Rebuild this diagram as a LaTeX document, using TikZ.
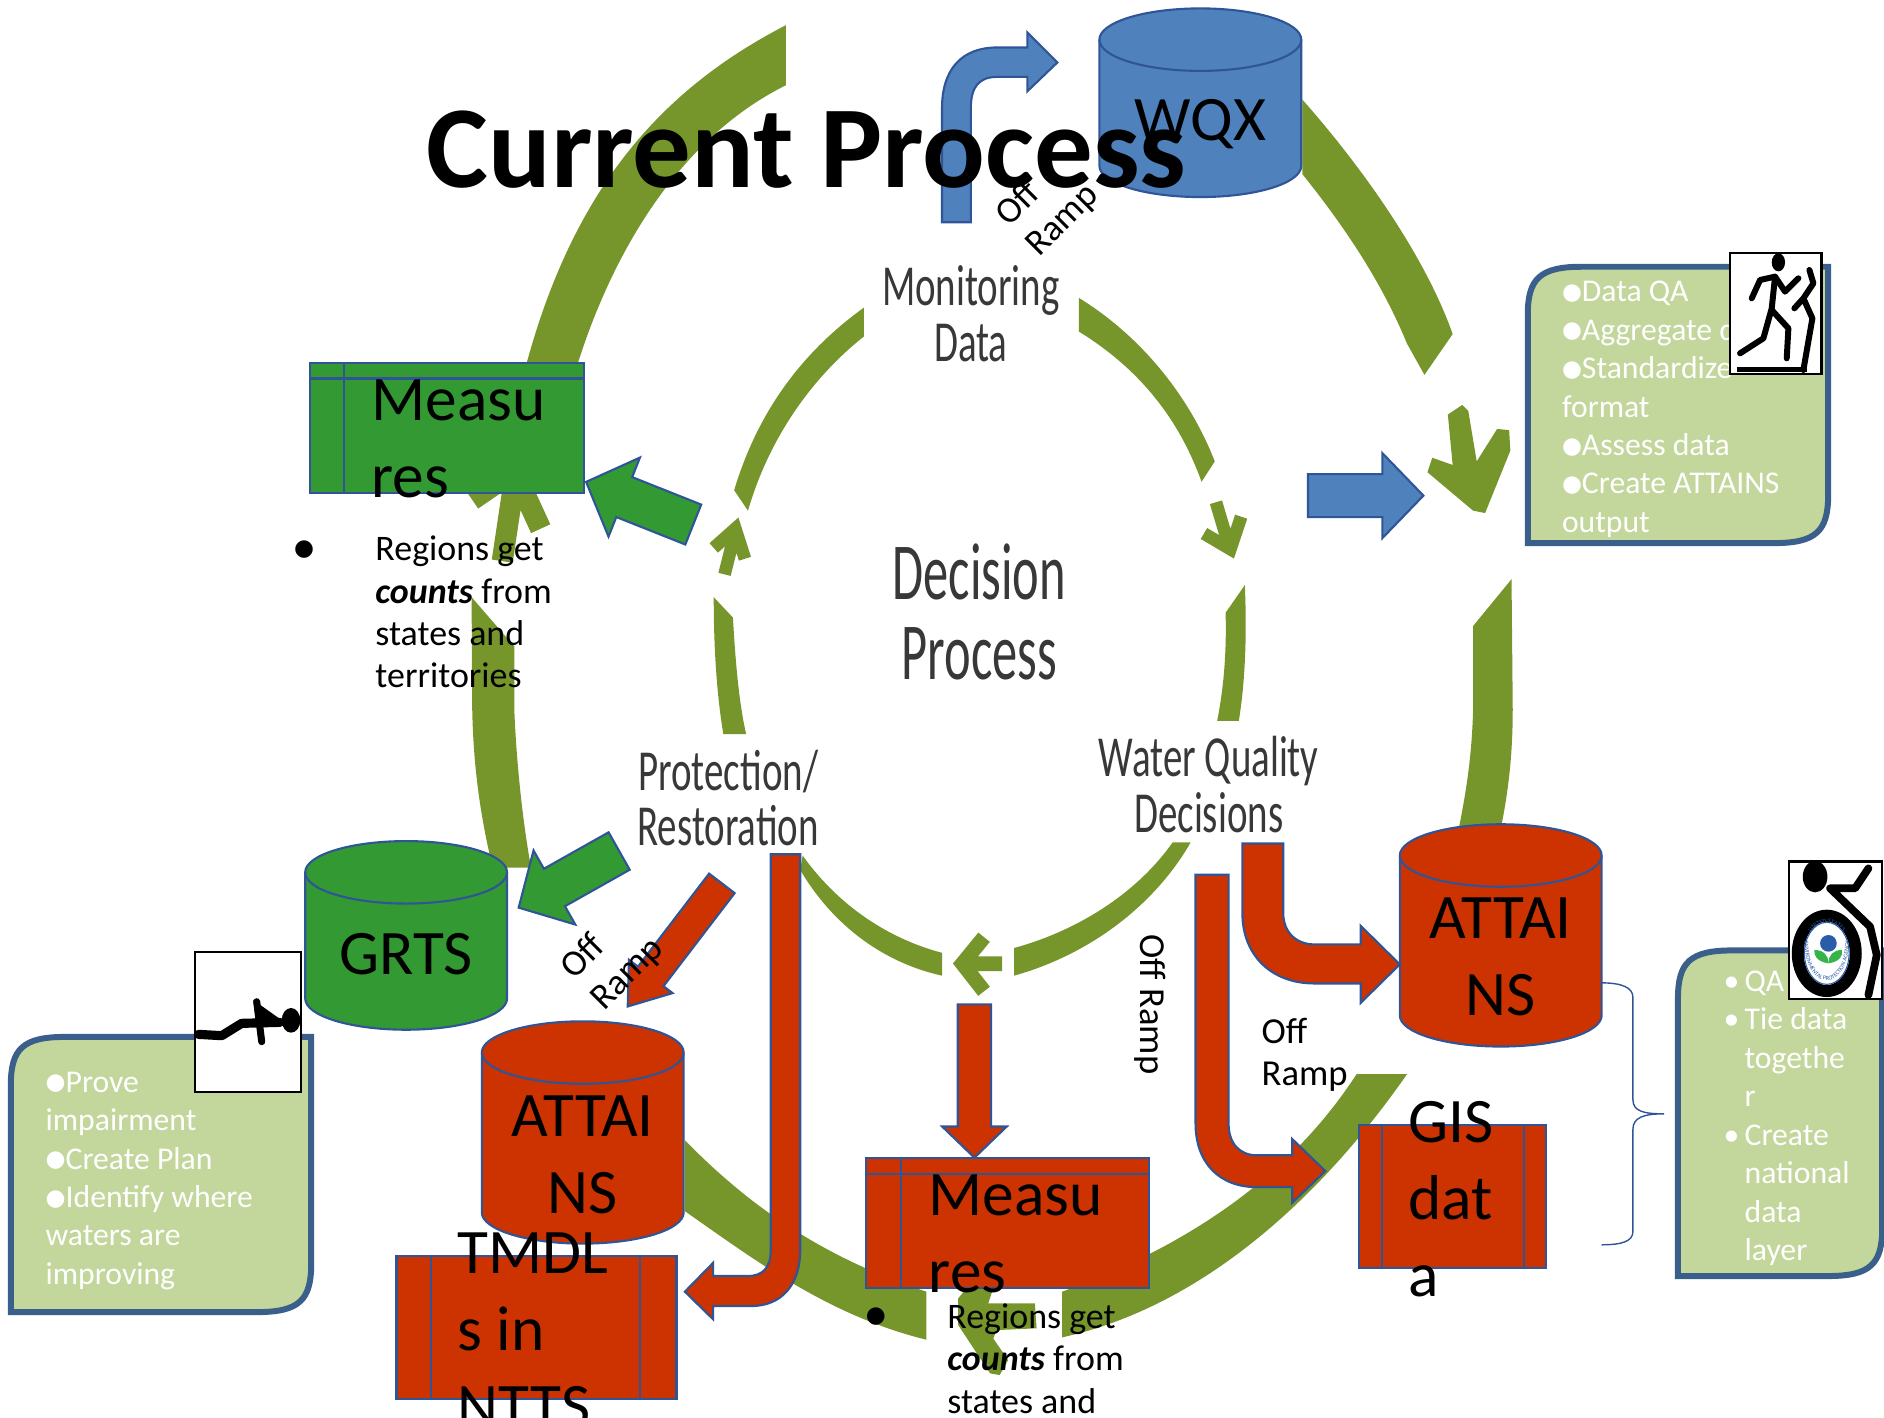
\documentclass[tikz,border=0pt]{standalone}
\usepackage{fontspec}
\setmainfont{Carlito}
\newfontfamily\symfont{DejaVu Sans}
\usetikzlibrary{arrows,calc,positioning,shapes.geometric,shapes.arrows,decorations.text}
\definecolor{ring}{HTML}{76962B}
\definecolor{wqblue}{HTML}{4F81BD}
\definecolor{wqgreen}{HTML}{339933}
\definecolor{wqred}{HTML}{CC3300}
\definecolor{wqline}{HTML}{2F5597}
\definecolor{callfill}{HTML}{C3D69B}
\definecolor{callline}{HTML}{3A5F8B}
\definecolor{epablue}{HTML}{2A5CAA}
\definecolor{epagreen}{HTML}{35B44A}
\def\pu{0.012cm}
\newcommand\bigtxt{\fontsize{18}{21.85}\selectfont}
\newcommand\blt{\raisebox{0.7pt}{\fontsize{6.5}{6.5}\symfont ●}}
\newcommand\sblt{\llap{\textbullet\hspace{1.5pt}}}
\newcommand\callpath[1]{(#1.south west) -- ($(#1.north west)+(0,40)$) .. controls ($(#1.north west)+(0,10)$) and ($(#1.north west)+(10,0)$) .. ($(#1.north west)+(45,0)$) -- (#1.north east) -- ($(#1.south east)+(0,-40)$) .. controls ($(#1.south east)+(0,-10)$) and ($(#1.south east)+(-10,0)$) .. ($(#1.south east)+(-45,0)$) -- cycle}
\newcommand\drumpath[1]{($(#1.north west)+(0,26)$) .. controls ($(#1.north west)+(0,11.6)$) and ($(#1.north)+(-46.4,0)$) .. (#1.north) .. controls ($(#1.north)+(46.4,0)$) and ($(#1.north east)+(0,11.6)$) .. ($(#1.north east)+(0,26)$) -- ($(#1.south east)+(0,-26)$) .. controls ($(#1.south east)+(0,-11.6)$) and ($(#1.south)+(46.4,0)$) .. (#1.south) .. controls ($(#1.south)+(-46.4,0)$) and ($(#1.south west)+(0,-11.6)$) .. ($(#1.south west)+(0,-26)$) -- cycle}
\newcommand\drumlid[1]{($(#1.north west)+(0,26)$) .. controls ($(#1.north west)+(0,40.4)$) and ($(#1.north)+(-46.4,52)$) .. ($(#1.north)+(0,52)$) .. controls ($(#1.north)+(46.4,52)$) and ($(#1.north east)+(0,40.4)$) .. ($(#1.north east)+(0,26)$)}
\begin{document}
\begin{tikzpicture}[x=0.012cm,y=-0.012cm,% picture is laid out in 1568 x 1180 steps
	every node/.style={inner sep=0,outer sep=0},
	drum/.style={rectangle,minimum width=168*\pu},
	drumline/.style={draw=wqline,semithick},
	measbox/.style={rectangle,draw=wqline,semithick},
	bigtext/.style={font=\bigtxt,align=left,anchor=west},
	blockarrow/.style={single arrow,draw=wqline,semithick,single arrow head indent=0pt,minimum height=96*\pu,minimum width=69*\pu,text height=17*\pu,text depth=17*\pu,single arrow head extend=17.5*\pu,single arrow tip angle=92},
	bent/.style={draw=wqline,semithick,line join=miter},
	circletext/.style={text=black!78,align=center,font=\fontsize{16.5}{15.7}\selectfont,xscale=0.67,transform shape},
	ramptext/.style={font=\fontsize{10.4}{12.2}\selectfont,align=left},
	notetext/.style={font=\fontsize{10.2}{12.05}\selectfont,align=left,anchor=north west},
	callbox/.style={rectangle},
	calltext/.style={text=white,font=\fontsize{9}{10.92}\selectfont,align=left,anchor=north west},
	iconbox/.style={rectangle,draw=black,fill=white,semithick},
	iconline/.style={draw=black,line width=1.7pt,line cap=round,line join=round}
	]
	\useasboundingbox (0,0) rectangle (1568,1180);
	% outer ring
	\fill[ring] (654,21) .. controls (530,85) and (450,190) .. (418,400) -- (458,400) .. controls (480,260) and (545,125) .. (654,71) -- cycle;
	\draw[ring,line width=6pt,line join=round] (418,467) -- (428,400) (393,416) -- (428,392) -- (450,440);
	\fill[ring] (392.5,497) -- (428,538) -- (428,590) .. controls (430,640) and (436,690) .. (442,722) -- (410,722) .. controls (400,680) and (394,640) .. (393,590) -- cycle;
	\fill[ring] (570,949) .. controls (620,1000) and (680,1045) .. (771,1075) -- (771,1115) .. controls (690,1095) and (630,1050) .. (570,1008) -- cycle;
	\fill[ring] (797.5,1080.6) -- (804.5,1072) -- (826.7,1072) -- (822.5,1084.7) -- (861.3,1084.7) -- (862.7,1105.5) -- (829.4,1107) -- (826.7,1114) -- (839,1132) -- (832,1144.4) -- (824,1143) -- (797.5,1102.8) -- cycle;
	\fill[ring] (884,1113) .. controls (990,1090) and (1090,1010) .. (1171,894) -- (1129,894) .. controls (1070,985) and (980,1040) .. (884,1075) -- cycle;
	\fill[ring] (1258,482) -- (1226,521) -- (1226,590) .. controls (1225,630) and (1220,660) .. (1214,690) -- (1249,690) .. controls (1255,660) and (1259,630) .. (1259,590) -- cycle;
	\fill[ring] (1084,83) .. controls (1130,135) and (1185,210) .. (1209,278) -- (1185.5,312) -- (1171,286) .. controls (1150,235) and (1120,190) .. (1084,145) -- cycle;
	\fill[ring] (1205,345) -- (1217,337) -- (1222,342) -- (1229,384) -- (1246,357) -- (1256,358) -- (1257,375) -- (1236,427) -- (1226,425) -- (1188,393) -- (1192,381) -- (1209,387) -- cycle;
	% inner ring
	\fill[ring] (719,256) .. controls (665,295) and (630,345) .. (611,408) -- (622.5,425) .. controls (640,365) and (675,315) .. (719,280) -- cycle;
	\draw[ring,line width=3.6pt] (603,478) -- (612,442) (594,456) -- (612,440) -- (620,465);
	\fill[ring] (594,497) -- (610,514) .. controls (612,550) and (615,585) .. (621,611) -- (602,611) .. controls (596,575) and (594,535) .. (594,497) -- cycle;
	\fill[ring] (668,712) .. controls (695,750) and (735,780) .. (784,793) -- (784,812) .. controls (730,800) and (690,765) .. (666,724) -- cycle;
	\draw[ring,line width=4.2pt] (834,802) -- (802,802) (819,780) -- (801,802) -- (819,825);
	\fill[ring] (844,789) .. controls (895,775) and (945,745) .. (976,701) -- (991,701) .. controls (960,755) and (905,795) .. (844,812) -- cycle;
	\fill[ring] (1036,487) -- (1020,510) .. controls (1021,545) and (1018,575) .. (1013,600) -- (1031,600) .. controls (1036,570) and (1038,530) .. (1036,487) -- cycle;
	\fill[ring] (898,248) .. controls (950,280) and (990,330) .. (1011,384) -- (1000,401) .. controls (980,345) and (945,305) .. (898,276) -- cycle;
	\draw[ring,line width=3.6pt] (1012,418) -- (1023,455) (1002,444) -- (1024,457) -- (1033,430);
	% circle labels
	\node[circletext](monitor) at (808,261){Monitoring\\Data};
	\node[circletext,xscale=0.93,font=\fontsize{23}{22.7}\selectfont](decision) at (815,509){Decision\\Process};
	\node[circletext](wqdecide) at (1006,653){Water Quality\\Decisions};
	\node[circletext](protect) at (606,664){Protection/\\Restoration};
	% stores
	\node[drum,minimum height=157*\pu](wqx) at (999,85.5){};
	\node[drum,minimum height=157*\pu](grts) at (338,778.5){};
	\node[drum,minimum height=185*\pu](attainsL) at (485,942.5){};
	\node[drum,minimum height=185*\pu](attainsR) at (1249,778.5){};
	\draw[drumline,fill=wqblue] \drumpath{wqx}; \draw[drumline] \drumlid{wqx};
	\draw[drumline,fill=wqgreen] \drumpath{grts}; \draw[drumline] \drumlid{grts};
	\draw[drumline,fill=wqred] \drumpath{attainsL}; \draw[drumline] \drumlid{attainsL};
	\draw[drumline,fill=wqred] \drumpath{attainsR}; \draw[drumline] \drumlid{attainsR};
	\node[measbox,fill=wqgreen,minimum width=228*\pu,minimum height=108*\pu](measG) at (372,356){};
	\node[measbox,fill=wqred,minimum width=235*\pu,minimum height=108*\pu](measR) at (838.5,1018){};
	\node[measbox,fill=wqred,minimum width=233*\pu,minimum height=119*\pu](tmdl) at (446.5,1104.5){};
	\node[measbox,fill=wqred,minimum width=156*\pu,minimum height=119*\pu](gis) at (1209,995.5){};
	\draw[wqline,semithick] (286,302) -- (286,410) (258,315) -- (486,315);
	\draw[wqline,semithick] (750,964) -- (750,1072) (721,977) -- (956,977);
	\draw[wqline,semithick] (359,1045) -- (359,1164) (533,1045) -- (533,1164);
	\draw[wqline,semithick] (1150,936) -- (1150,1055) (1268,936) -- (1268,1055);
	% block arrows
	\node[blockarrow,fill=wqblue](toAssess) at (1128,412.5){};
	\node[blockarrow,fill=wqgreen,rotate=158.3](toMeas) at (540.4,422){};
	\node[blockarrow,fill=wqgreen,rotate=209.4](toGrts) at (481,727.6){};
	\node[blockarrow,fill=wqred,rotate=232.6,minimum height=129*\pu,minimum width=44*\pu,text height=12.5*\pu,text depth=12.5*\pu,single arrow head extend=9.5*\pu,single arrow tip angle=72](toAttains) at (567.2,779.1){};
	\node[blockarrow,fill=wqred,rotate=270,minimum height=127.6*\pu,minimum width=52*\pu,text height=13*\pu,text depth=13*\pu,single arrow head extend=13*\pu](toMeasR) at (811,893){};
	\draw[bent,fill=wqblue] (784,185) -- (784,90) .. controls (784,58) and (800,39.5) .. (830,39.5) -- (855,39.5) -- (855,27) -- (880,52) -- (855,76) -- (855,64) -- (830,64) .. controls (815,64) and (808,72) .. (808,90) -- (808,185) -- cycle;
	\draw[bent,fill=wqred] (641.5,711) -- (666,711) -- (666,1040) .. controls (666,1070) and (650,1087) .. (625,1087) -- (593.5,1087) -- (593.5,1098) -- (570,1075) -- (593.5,1051) -- (593.5,1062) -- (622,1062) .. controls (635,1062) and (641.5,1055) .. (641.5,1040) -- cycle;
	\draw[bent,fill=wqred] (1034,702) -- (1068,702) -- (1068,760) .. controls (1068,775) and (1078,786) .. (1094,786) -- (1132.5,786) -- (1132.5,770.6) -- (1165,802.6) -- (1132.5,834.6) -- (1132.5,818.5) -- (1094,818.5) .. controls (1058,818.5) and (1034,795) .. (1034,760) -- cycle;
	\draw[bent,fill=wqred] (995,728) -- (1022.5,728) -- (1022.5,935) .. controls (1022.5,952) and (1032,961.5) .. (1046,961.5) -- (1075.5,961.5) -- (1075.5,948) -- (1103,974.6) -- (1075.5,1001) -- (1075.5,988) -- (1046,988) .. controls (1015,988) and (995,968) .. (995,935) -- cycle;
	% brace
	\coordinate(braceA) at (attainsR.east|-0,818);
	\coordinate(braceB) at (1333,1036);
	\draw[wqline] (braceA) .. controls (1350,818) and (1359,822) .. (1359,830) -- (1359,915) .. controls (1359,925) and (1368,927) .. (1385,927) .. controls (1368,927) and (1359,930) .. (1359,940) -- (1359,1025) .. controls (1359,1033) and (1350,1036) .. (braceB);
	% store texts
	\node[font=\bigtxt](wqxtext) at (999,103){WQX};
	\node[font=\bigtxt](grtstext) at (338,794){GRTS};
	\node[font=\bigtxt,align=center](attainsLtext) at (485,961.5){ATTAI\\NS};
	\node[font=\bigtxt,align=center](attainsRtext) at (1249,796.5){ATTAI\\NS};
	\node[bigtext](measGtext) at (309,365){Measu\\res};
	\node[bigtext](measRtext) at (773,1027){Measu\\res};
	\node[bigtext](tmdltext) at (381,1107){TMDL\\s in\\NTTS};
	\node[bigtext](gistext) at (1172,998){GIS\\dat\\a};
	% notes
	\node(dotA) at (253,457){\fontsize{6.5}{7}\symfont ●};
	\node[notetext](noteA) at (312.5,446){Regions get\\\textbf{\textit{counts}} from\\states and\\territories};
	\node(dotB) at (729,1096){\fontsize{6.5}{7}\symfont ●};
	\node[notetext](noteB) at (788.5,1085){Regions get\\\textbf{\textit{counts}} from\\states and};
	% off ramps
	\node[ramptext,rotate=45](rampA) at (872,171){Off\\Ramp};
	\node[ramptext,rotate=45](rampB) at (510,798){Off\\Ramp};
	\node[ramptext,rotate=-90](rampC) at (957,836){Off Ramp};
	\node[ramptext,anchor=north west](rampD) at (1050,847){Off\\Ramp};
	% callouts
	\node[callbox,minimum width=250*\pu,minimum height=230*\pu](assess) at (1396.5,337){};
	\draw[callline,fill=callfill,line width=1.7pt] \callpath{assess};
	\node[calltext](assesstext) at (1300,234){\blt Data QA\\\blt Aggregate data\\\blt Standardize\\format\\\blt Assess data\\\blt Create ATTAINS\\output};
	\node[callbox,minimum width=250*\pu,minimum height=229*\pu](prove) at (134,977.5){};
	\draw[callline,fill=callfill,line width=1.7pt] \callpath{prove};
	\node[calltext](provetext) at (38,892){\blt Prove\\impairment\\\blt Create Plan\\\blt Identify where\\waters are\\improving};
	\node[callbox,minimum width=170*\pu,minimum height=271*\pu](tie) at (1481.5,926.5){};
	\draw[callline,fill=callfill,line width=1.7pt] \callpath{tie};
	\node[calltext](tietext) at (1452,808){\sblt QA\\\sblt Tie data\\togethe\\r\\\sblt Create\\national\\data\\layer};
	% icons
	\node[iconbox,minimum width=76*\pu,minimum height=100.5*\pu](runner) at (1478,261){};
	\begin{scope}[shift={(1435.7,203.9)},scale=0.2774]
		\fill (160,52) ellipse [x radius=20,y radius=27];
		\draw[iconline] (80,160) -- (105,105) -- (150,95) -- (180,140) -- (220,100);
		\draw[iconline] (150,95) -- (140,190) -- (115,280) -- (45,325);
		\draw[iconline] (140,195) -- (190,250) -- (185,340);
		\draw[iconline] (208,190) -- (235,160) -- (262,220) -- (235,375);
		\draw[iconline] (235,160) -- (265,115) -- (253,75);
		\fill (35,365) rectangle (245,382);
	\end{scope}
	\node[iconbox,minimum width=88*\pu,minimum height=116.5*\pu](crawler) at (206.3,850.3){};
	\begin{scope}[shift={(154,786.5)},scale=0.2774]
		\fill (318,226) ellipse [x radius=28,y radius=37];
		\fill (205,165) -- (285,222) -- (285,240) -- (215,245) -- cycle;
		\draw[iconline,line width=2.6pt] (40,268) -- (110,272) -- (170,235) -- (285,232);
		\draw[iconline,line width=2pt] (215,170) -- (230,290);
	\end{scope}
	\node[iconbox,minimum width=77*\pu,minimum height=114.5*\pu](wheeler) at (1527.7,774.2){};
	\begin{scope}[shift={(1481.5,711.6)},scale=0.2774]
		\fill (105,65) ellipse [x radius=37,y radius=47];
		\draw[iconline,line width=2.2pt] (265,40) -- (225,100) -- (150,100) -- (270,215) -- (290,300) -- (265,420);
		\draw[black,line width=3.4pt,fill=white] (140,295) ellipse [x radius=87,y radius=113];
		\draw[epablue,line width=0.3pt] (140,295) ellipse [x radius=67,y radius=93];
		\fill[epablue] (145,265) circle (25);
		\fill[epagreen] (145,325) .. controls (110,320) and (100,300) .. (103,285) .. controls (130,285) and (145,300) .. (145,325) -- cycle;
		\fill[epagreen] (145,325) .. controls (180,320) and (190,300) .. (185,285) .. controls (160,285) and (145,300) .. (145,325) -- cycle;
		\path[decorate,decoration={text along path,text align=center,text={|\fontsize{1.7}{2}\selectfont\color{epablue}|UNITED STATES}}] (83,260) .. controls (95,185) and (185,185) .. (197,260);
		\path[decorate,decoration={text along path,text align=center,text={|\fontsize{1.7}{2}\selectfont\color{epablue}|ENVIRONMENTAL PROTECTION AGENCY}}] (73,260) .. controls (75,415) and (205,415) .. (207,260);
	\end{scope}
	% title
	\node[font=\fontsize{33.2}{36}\bfseries\selectfont,anchor=base west](title) at (355,156){Current Process};
\end{tikzpicture}
\end{document}
